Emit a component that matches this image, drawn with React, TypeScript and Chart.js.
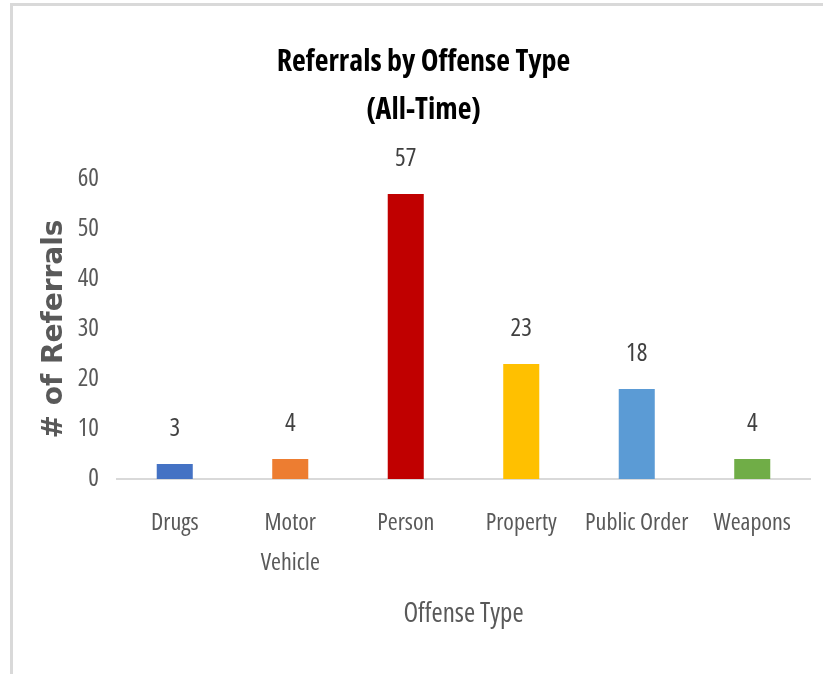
import React, { useEffect, useRef } from "react";
import { Chart, registerables } from "chart.js";

Chart.register(...registerables);

const categories: (string | string[])[] = ["Drugs", ["Motor", "Vehicle"], "Person", "Property", "Public Order", "Weapons"];
const referrals: number[] = [3, 4, 57, 23, 18, 4];
const barColors: string[] = ["#4472C4", "#ED7D31", "#C00000", "#FFC000", "#5B9BD5", "#70AD47"];
const titleLines: string[] = ["Referrals by Offense Type", "(All-Time)"];
const yAxisTitle = "# of Referrals";
const xAxisTitle = "Offense Type";
const yMin = 0;
const yMax = 60;
const yStep = 10;

const NARROW = "'Open Sans', 'Roboto Condensed', sans-serif";
const W = 823;
const H = 674;

const valueLabels = {
  id: "valueLabels",
  afterDatasetsDraw(chart: any) {
    const ctx = chart.ctx;
    const meta = chart.getDatasetMeta(0);
    const data = chart.data.datasets[0].data as number[];
    ctx.save();
    ctx.font = `condensed 25px ${NARROW}`;
    ctx.fillStyle = "#404040";
    ctx.textAlign = "center";
    ctx.textBaseline = "middle";
    meta.data.forEach((bar: any, i: number) => {
      ctx.fillText(String(data[i]), bar.x, bar.y - 35);
    });
    ctx.restore();
  },
};

export default function App() {
  const ref = useRef<HTMLCanvasElement | null>(null);
  useEffect(() => {
    if (!ref.current) return;
    const chart = new Chart(ref.current, {
      type: "bar",
      data: {
        labels: categories,
        datasets: [
          {
            data: referrals,
            backgroundColor: barColors,
            borderWidth: 0,
            categoryPercentage: 1,
            barPercentage: 0.312,
          },
        ],
      },
      options: {
        animation: false,
        responsive: false,
        devicePixelRatio: 1,
        layout: { padding: { left: 37, right: 13, top: 0, bottom: 0 } },
        plugins: {
          legend: { display: false },
          tooltip: { enabled: false },
          title: {
            display: true,
            text: titleLines,
            color: "#000000",
            font: { family: NARROW, size: 30, weight: "bold condensed" as any, lineHeight: "48px" },
            padding: { top: 38.5, bottom: 44.5 },
          },
        },
        scales: {
          x: {
            grid: { display: false, drawTicks: false },
            border: { display: true, color: "#d9d9d9", width: 2 },
            ticks: {
              color: "#595959",
              font: { family: NARROW, size: 24, weight: "condensed" as any, lineHeight: "40px" },
              padding: 24,
              autoSkip: false,
              maxRotation: 0,
              minRotation: 0,
            },
            title: {
              display: true,
              text: xAxisTitle,
              color: "#595959",
              font: { family: NARROW, size: 27, weight: "condensed" as any, lineHeight: 1.2 },
              padding: { top: 0, bottom: 43.4 },
            },
            afterFit(scale: any) {
              scale.height = 195;
            },
          },
          y: {
            min: yMin,
            max: yMax,
            grid: { display: false, drawTicks: false },
            border: { display: false },
            ticks: {
              stepSize: yStep,
              color: "#595959",
              font: { family: NARROW, size: 25, weight: "condensed" as any },
              padding: 18,
            },
            title: {
              display: true,
              text: yAxisTitle,
              color: "#595959",
              font: { family: "'DejaVu Sans', Verdana, sans-serif", size: 28, weight: "bold", lineHeight: 1.2 },
              padding: { top: 1, bottom: 0 },
            },
            afterFit(scale: any) {
              scale.width = 80;
            },
          },
        },
      },
      plugins: [valueLabels],
    });
    return () => chart.destroy();
  }, []);

  return (
    <div style={{ position: "absolute", left: 0, top: 0, width: W, height: H, background: "#ffffff", overflow: "hidden" }}>
      <div
        style={{
          position: "absolute",
          left: 10,
          top: 3,
          width: W,
          height: H,
          borderTop: "3px solid #d9d9d9",
          borderLeft: "3px solid #d9d9d9",
        }}
      />
      <canvas ref={ref} width={W} height={H} style={{ position: "absolute", left: 0, top: 0, display: "block" }} />
    </div>
  );
}
